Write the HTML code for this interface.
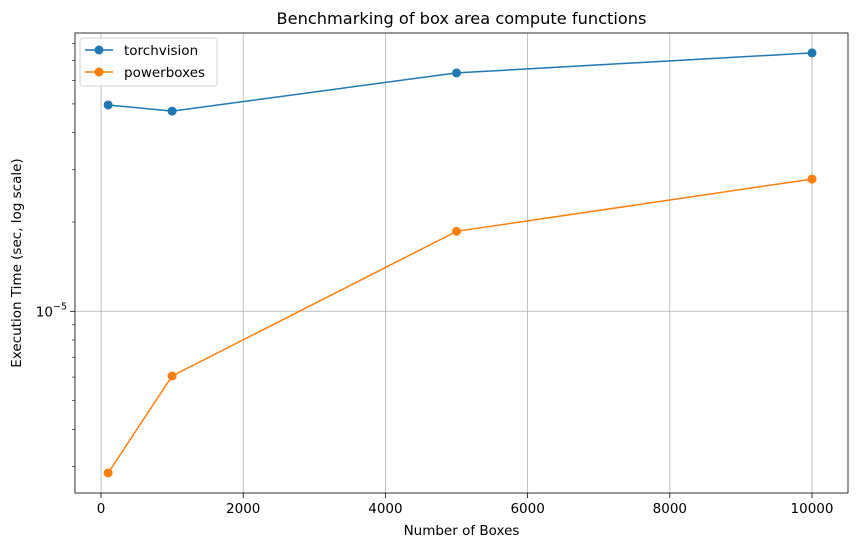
<!DOCTYPE html>
<html><head><meta charset="utf-8"><style>
body{margin:0;background:#fff;font-family:"Liberation Sans","DejaVu Sans",sans-serif}
svg text{font-family:"DejaVu Sans","Liberation Sans",sans-serif}
</style></head><body>
<svg id="chart" width="857" height="547"></svg>
<script>
const boxes = [100, 1000, 5000, 10000];
const torchvision = [4.96e-5, 4.73e-5, 6.36e-5, 7.43e-5];
const powerboxes = [2.85e-6, 6.05e-6, 1.86e-5, 2.79e-5];
const xTicks = [0, 2000, 4000, 6000, 8000, 10000];
const yMinor = [3e-6,4e-6,5e-6,6e-6,7e-6,8e-6,9e-6,2e-5,3e-5,4e-5,5e-5,6e-5,7e-5,8e-5];

const L=75,R=848,T=33,B=493;
const xMin=-366,xMax=10506;
const yMin=2.44e-6,yMax=8.67e-5;
const X=v=>L+(v-xMin)/(xMax-xMin)*(R-L);
const Y=v=>B-(Math.log10(v)-Math.log10(yMin))/(Math.log10(yMax)-Math.log10(yMin))*(B-T);
const svg=document.getElementById('chart');
const NS='http://www.w3.org/2000/svg';
function mk(tag,attrs,parent){const e=document.createElementNS(NS,tag);for(const k in attrs)e.setAttribute(k,attrs[k]);(parent||svg).appendChild(e);return e;}

xTicks.forEach(t=>{
  const g=mk('line',{x1:X(t),x2:X(t),y1:T,y2:B,stroke:'#b0b0b0','stroke-width':0.8});
  
  
  const tk=mk('line',{x1:X(t),x2:X(t),y1:B,y2:B+5,stroke:'#000','stroke-width':0.8});
  
  
  const tx=mk('text',{x:X(t),y:B+20,'text-anchor':'middle','font-size':13.5});
  tx.textContent=t;
  
  
});
const gy=mk('line',{x1:L,x2:R,y1:Y(1e-5),y2:Y(1e-5),stroke:'#b0b0b0','stroke-width':0.8});


mk('line',{x1:L-5,x2:L,y1:Y(1e-5),y2:Y(1e-5),stroke:'#000','stroke-width':0.8});
const yl=mk('text',{x:L-8,y:Y(1e-5)+5,'text-anchor':'end','font-size':13.5});
yl.innerHTML='10<tspan dy="-7" font-size="9.5">−5</tspan>';


yMinor.forEach(v=>{
  const m=mk('line',{x1:L-3,x2:L,y1:Y(v),y2:Y(v),stroke:'#000','stroke-width':0.6});
  
  
});

function series(vals,color,name){
  const pts=boxes.map((b,i)=>X(b)+','+Y(vals[i])).join(' ');
  const pl=mk('polyline',{points:pts,fill:'none',stroke:color,'stroke-width':1.5});
  
  
  boxes.forEach((b,i)=>{
    const c=mk('circle',{cx:X(b),cy:Y(vals[i]),r:4.5,fill:color});
    
    
  });
}
series(torchvision,'#1f77b4','torchvision');
series(powerboxes,'#ff7f0e','powerboxes');

const fr=mk('rect',{x:L,y:T,width:R-L,height:B-T,fill:'none',stroke:'#000','stroke-width':0.8});



const lg=mk('g',{});


mk('rect',{x:80,y:38,width:137,height:48,rx:3,fill:'#fff','fill-opacity':0.8,stroke:'#d0d0d0'},lg);
[['torchvision','#1f77b4',50],['powerboxes','#ff7f0e',72]].forEach(([n,c,y])=>{
  mk('line',{x1:85,x2:113,y1:y,y2:y,stroke:c,'stroke-width':1.5},lg);
  mk('circle',{cx:99,cy:y,r:4.5,fill:c},lg);
  const t=mk('text',{x:124,y:y+5,'font-size':13.5},lg);
  t.textContent=n;
  
  
});

const ti=mk('text',{x:(L+R)/2,y:24,'text-anchor':'middle','font-size':16.2});
ti.textContent='Benchmarking of box area compute functions';


const xt=mk('text',{x:(L+R)/2,y:535,'text-anchor':'middle','font-size':13.5});
xt.textContent='Number of Boxes';


const yt=mk('text',{x:21,y:(T+B)/2,'text-anchor':'middle','font-size':13.5,transform:`rotate(-90 21 ${(T+B)/2})`});
yt.textContent='Execution Time (sec, log scale)';


</script>
</body></html>
